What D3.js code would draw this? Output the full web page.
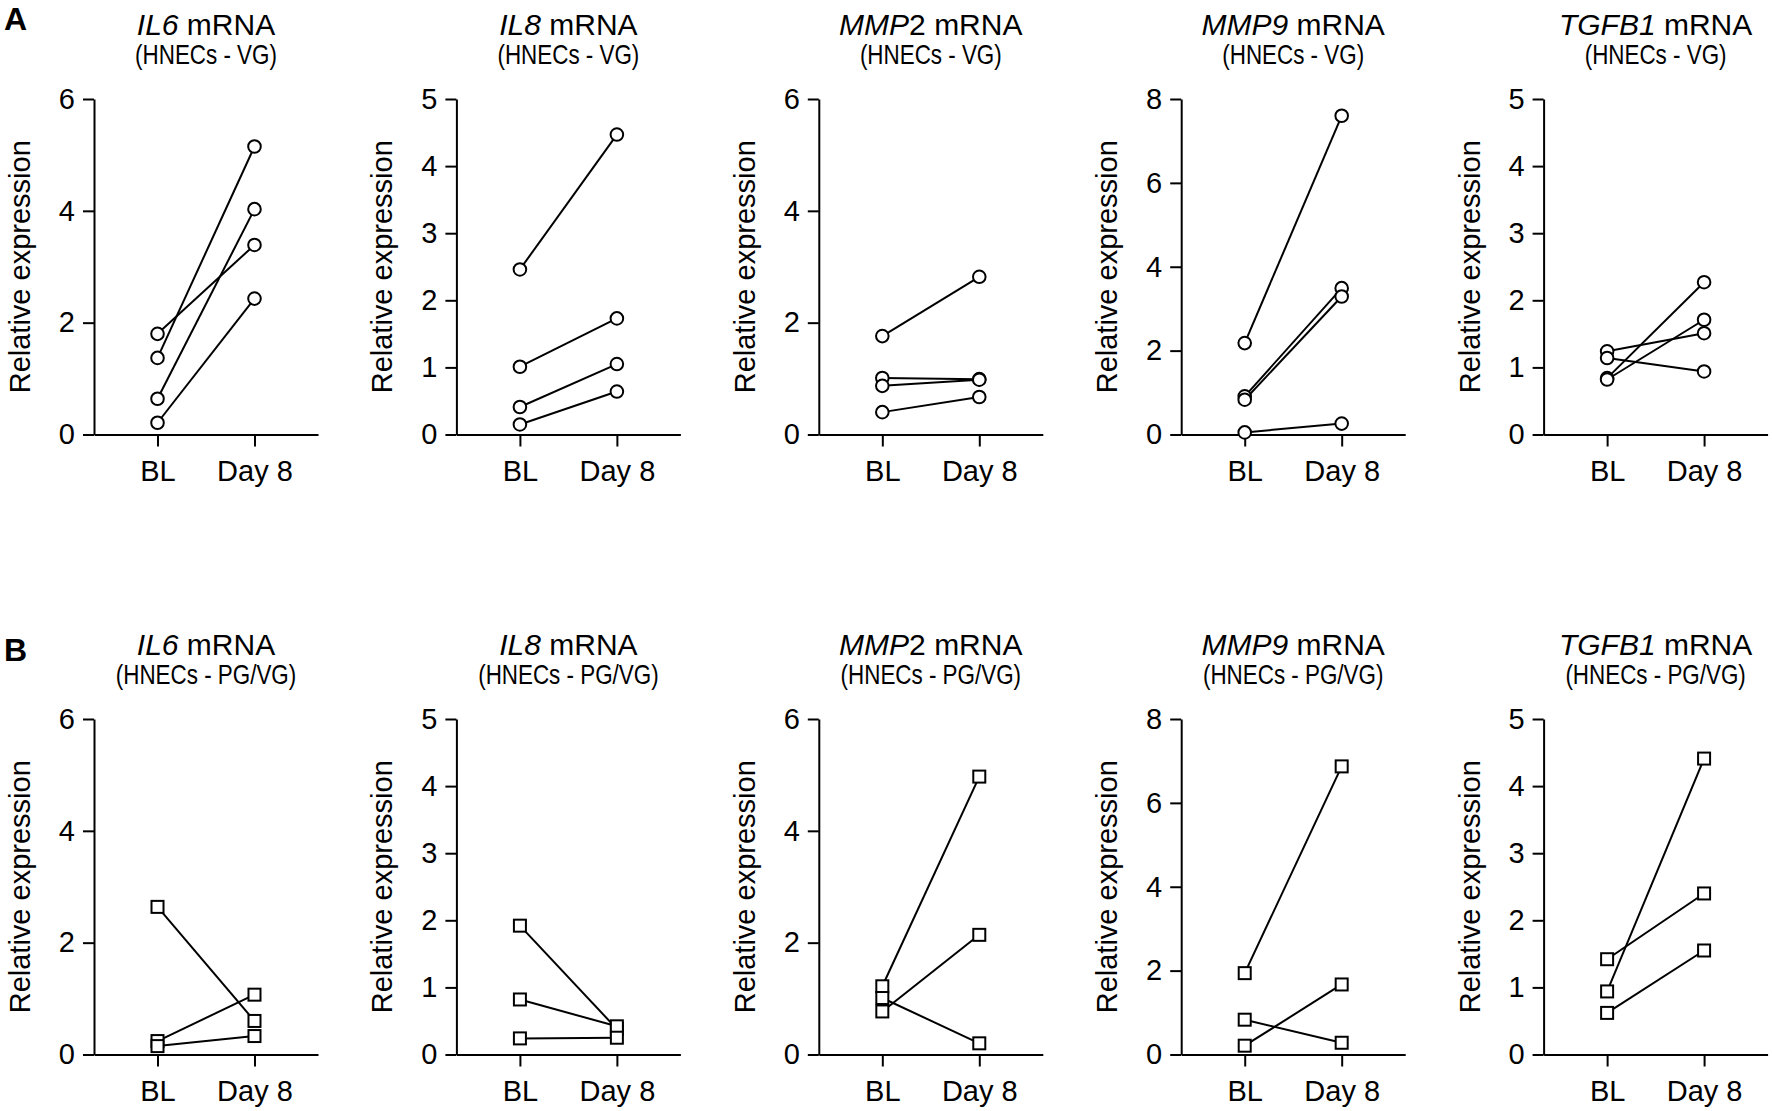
<!DOCTYPE html>
<meta charset="utf-8" />
<html>
    <head>
        <script src="https://d3js.org/d3.v7.min.js"></script>
        <style>
            body { margin: 0; background: white; }
            svg { font-family: "Liberation Sans", Arial, sans-serif; }
            .axis path, .axis line { stroke: black; stroke-width: 2px; }
            .pair { stroke: black; stroke-width: 2px; fill: none; }
            .mark { stroke: black; stroke-width: 2px; fill: white; }
        </style>
    </head>
    <body>
        <svg width="1772" height="1111"></svg>
    </body>
    <script>
        // Chart data
        var categories = ["BL", "Day 8"];
        var genes = ["IL6", "IL8", "MMP2", "MMP9", "TGFB1"];
        var geneItalic = ["IL6", "IL8", "MMP", "MMP9", "TGFB1"];
        var genePlain = ["", "", "2", "", ""];
        var yMax = [6, 5, 6, 8, 5];
        var yTicks = [[0, 2, 4, 6], [0, 1, 2, 3, 4, 5], [0, 2, 4, 6], [0, 2, 4, 6, 8], [0, 1, 2, 3, 4, 5]];
        var rowLetters = ["A", "B"];
        var rowGroups = ["(HNECs - VG)", "(HNECs - PG/VG)"];

        // Row A (VG), circles: baseline and day 8 per donor
        var vgBL = [
            [1.80, 1.37, 0.64, 0.21],
            [2.46, 1.01, 0.41, 0.15],
            [1.76, 1.01, 0.87, 0.40],
            [2.18, 0.91, 0.83, 0.05],
            [1.24, 1.14, 0.84, 0.82]
        ];
        var vgDay8 = [
            [3.39, 5.15, 4.03, 2.43],
            [4.47, 1.73, 1.05, 0.64],
            [2.82, 0.99, 0.98, 0.67],
            [7.60, 3.49, 3.29, 0.26],
            [1.51, 0.94, 2.27, 1.71]
        ];

        // Row B (PG/VG), squares
        var pgvgBL = [
            [2.64, 0.24, 0.15],
            [1.92, 0.82, 0.24],
            [1.22, 1.01, 0.77],
            [1.94, 0.83, 0.21],
            [1.42, 0.94, 0.62]
        ];
        var pgvgDay8 = [
            [0.60, 1.07, 0.33],
            [0.38, 0.42, 0.25],
            [4.97, 0.20, 2.14],
            [6.87, 0.28, 1.67],
            [2.40, 4.41, 1.55]
        ];

        var svg = d3.select("svg");
        var FONT = "'Liberation Sans', Arial, sans-serif";

        // Layout
        var panelX0 = 94, panelStep = 362.4;
        var rowTop = [99, 719];
        var plotH = 335.5, plotW = 224;

        var x = d3.scalePoint().domain(categories).range([0, plotW]).padding(0.655);

        function draw_panel(row, i, blVals, d8Vals, shape) {
            var g = svg.append("g")
                .attr("transform", "translate(" + (panelX0 + i * panelStep) + "," + rowTop[row] + ")");

            var y = d3.scaleLinear().domain([0, yMax[i]]).range([plotH, 0]);

            g.append("g")
                .attr("class", "axis")
                .call(d3.axisLeft(y).tickValues(yTicks[i]).tickFormat(d3.format("d"))
                    .tickSize(11).tickSizeOuter(0).tickPadding(8));

            g.append("g")
                .attr("class", "axis")
                .attr("transform", "translate(0," + plotH + ")")
                .call(d3.axisBottom(x).tickSize(12).tickSizeOuter(0).tickPadding(14));

            g.selectAll(".axis").attr("font-family", FONT).attr("font-size", 29);
            g.selectAll(".axis text").attr("fill", "black");

            // y label
            g.append("text")
                .attr("transform", "translate(-64," + (plotH / 2) + ") rotate(-90)")
                .attr("text-anchor", "middle")
                .style("font-size", "29px")
                .text("Relative expression");

            // title
            var t = g.append("text")
                .attr("x", plotW / 2)
                .attr("y", -64)
                .attr("text-anchor", "middle")
                .style("font-size", "30px");
            t.append("tspan").style("font-style", "italic").text(geneItalic[i]);
            t.append("tspan").text(genePlain[i] + " mRNA");

            // subtitle, set in a condensed face in the original
            g.append("text")
                .attr("transform", "translate(" + (plotW / 2) + ",-35) scale(0.83,1)")
                .attr("text-anchor", "middle")
                .style("font-size", "27px")
                .text(rowGroups[row]);

            var pairs = blVals.map(function(v, k) { return [v, d8Vals[k]]; });

            g.selectAll(".pair").data(pairs).enter().append("line")
                .attr("class", "pair")
                .attr("x1", x(categories[0]))
                .attr("x2", x(categories[1]))
                .attr("y1", function(d) { return y(d[0]); })
                .attr("y2", function(d) { return y(d[1]); });

            var pts = [];
            pairs.forEach(function(d) {
                pts.push({c: categories[0], v: d[0]});
                pts.push({c: categories[1], v: d[1]});
            });

            if (shape == "circle") {
                g.selectAll(".mark").data(pts).enter().append("circle")
                    .attr("class", "mark")
                    .attr("cx", function(d) { return x(d.c); })
                    .attr("cy", function(d) { return y(d.v); })
                    .attr("r", 6.3);
            } else {
                var s = 12;
                g.selectAll(".mark").data(pts).enter().append("rect")
                    .attr("class", "mark")
                    .attr("x", function(d) { return x(d.c) - s / 2; })
                    .attr("y", function(d) { return y(d.v) - s / 2; })
                    .attr("width", s)
                    .attr("height", s);
            }
        }

        for (var i = 0; i < genes.length; i++) {
            draw_panel(0, i, vgBL[i], vgDay8[i], "circle");
            draw_panel(1, i, pgvgBL[i], pgvgDay8[i], "square");
        }

        // panel letters
        svg.append("text").attr("x", 4).attr("y", 30)
            .style("font-size", "32px").style("font-weight", "bold").text(rowLetters[0]);
        svg.append("text").attr("x", 4).attr("y", 661)
            .style("font-size", "32px").style("font-weight", "bold").text(rowLetters[1]);
    </script>
</html>
